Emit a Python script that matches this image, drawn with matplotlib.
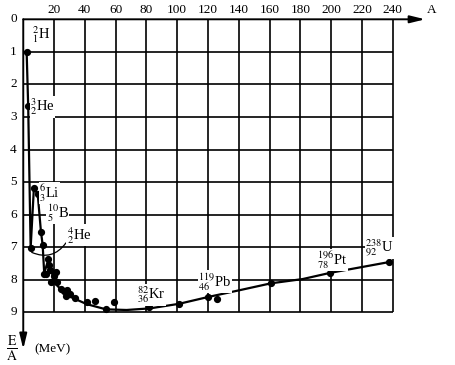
import matplotlib
matplotlib.use("Agg")
import matplotlib.pyplot as plt

plt.rcParams['font.family'] = ['Liberation Serif', 'DejaVu Serif']
plt.rcParams['mathtext.fontset'] = 'stix'

# mass number ticks (top) and binding energy ticks (left)
x_ticks = [20, 40, 60, 80, 100, 120, 140, 160, 180, 200, 220, 240]
y_ticks = [0, 1, 2, 3, 4, 5, 6, 7, 8, 9]

# curve drawn through the measured nuclei (A, E/A in MeV)
curve_A = [2.2, 3.2, 4.8, 6.9, 9.4, 11.5, 12.6, 13.6, 16.2, 17.5, 19.0, 20.6,
           24.9, 30.3, 41.2, 53.7, 67.1, 82.3, 101.2, 120.1, 140.7, 160.9,
           181.4, 199.2, 237.3]
curve_E = [1.0, 2.66, 7.02, 5.19, 5.38, 6.53, 6.93, 7.8, 7.4, 7.6, 7.85, 8.11,
           8.32, 8.52, 8.75, 8.91, 8.93, 8.88, 8.74, 8.53, 8.32, 8.11,
           7.98, 7.79, 7.46]

# individual nuclei
pts_A = [2.2, 3.2, 4.8, 6.9, 9.4, 11.5, 12.6, 13.6, 14.5, 16.2, 16.9, 17.3,
         17.8, 20.1, 21.0, 22.1, 24.5, 26.6, 27.5, 28.2, 30.3, 33.6, 41.2,
         46.6, 53.5, 59.1, 81.8, 101.3, 120.1, 126.0, 160.9, 199.2, 237.3]
pts_E = [1.0, 2.66, 7.02, 5.19, 5.38, 6.53, 6.93, 7.83, 7.83, 7.36, 7.55, 7.7,
         8.06, 7.89, 7.75, 8.08, 8.27, 8.35, 8.49, 8.32, 8.45, 8.57, 8.69,
         8.65, 8.9, 8.68, 8.83, 8.74, 8.53, 8.58, 8.09, 7.79, 7.46]

labels = [r'${}^{2}_{1}$H', r'${}^{3}_{2}$He', r'${}^{6}_{3}$Li', r'${}^{10}_{5}$B',
          r'${}^{4}_{2}$He', r'${}^{82}_{36}$Kr', r'${}^{119}_{46}$Pb',
          r'${}^{196}_{78}$Pt', r'${}^{238}_{92}$U']
label_A = [5.6, 4.4, 10.2, 15.2, 28.2, 74.0, 113.6, 190.9, 222.0]
label_E = [0.48, 2.69, 5.34, 5.95, 6.63, 8.47, 8.06, 7.39, 7.03]

fig = plt.figure(figsize=(4.56, 3.65), dpi=100)
ax = fig.add_axes([0, 0, 1, 1])
ax.set_xlim(-15.1, 281.0)
ax.set_ylim(10.62, -0.593)
ax.axis('off')

# grid
ax.vlines(x_ticks, 0, 9, color='black', lw=1.2, zorder=1)
ax.hlines(y_ticks[1:], 0, 240, color='black', lw=1.2, zorder=1)

# axes with arrows
ax.annotate('', xy=(261, 0), xytext=(0, 0),
            arrowprops=dict(arrowstyle='-|>,head_length=0.9,head_width=0.22',
                            color='black', lw=1.4, shrinkA=0, shrinkB=0), zorder=2)
ax.annotate('', xy=(0, 10.13), xytext=(0, 0),
            arrowprops=dict(arrowstyle='-|>,head_length=0.9,head_width=0.22',
                            color='black', lw=1.4, shrinkA=0, shrinkB=0), zorder=2)

for x in x_ticks:
    ax.text(x, -0.29, str(x), ha='center', va='center', fontsize=9.5)
for y in y_ticks:
    ax.text(-6.4, y, str(y), ha='center', va='center', fontsize=9.5)
ax.text(265.2, -0.29, 'A', ha='center', va='center', fontsize=9.5)
ax.text(-7.5, 10.14, r'$\frac{\mathrm{E}}{\mathrm{A}}$', ha='center', va='center', fontsize=14)
ax.text(7.5, 10.13, '(MeV)', ha='left', va='center', fontsize=9.5)

# data
ax.plot(curve_A, curve_E, color='black', lw=1.6, zorder=3)
ax.plot(pts_A, pts_E, 'o', color='black', ms=4.2, zorder=4)

for s, a, e in zip(labels, label_A, label_E):
    ax.text(a, e, s, ha='left', va='center', fontsize=10.5, zorder=5,
            bbox=dict(facecolor='white', edgecolor='none', pad=0.3))

# leader from the 4He label to its point, sagging below both ends
ax.annotate('', xy=(5.5, 7.16), xytext=(27.7, 6.87),
            arrowprops=dict(arrowstyle='-', color='black', lw=0.9,
                            connectionstyle='arc3,rad=-0.4', shrinkA=0, shrinkB=0),
            zorder=3)

fig.savefig('out.png', dpi=100)
